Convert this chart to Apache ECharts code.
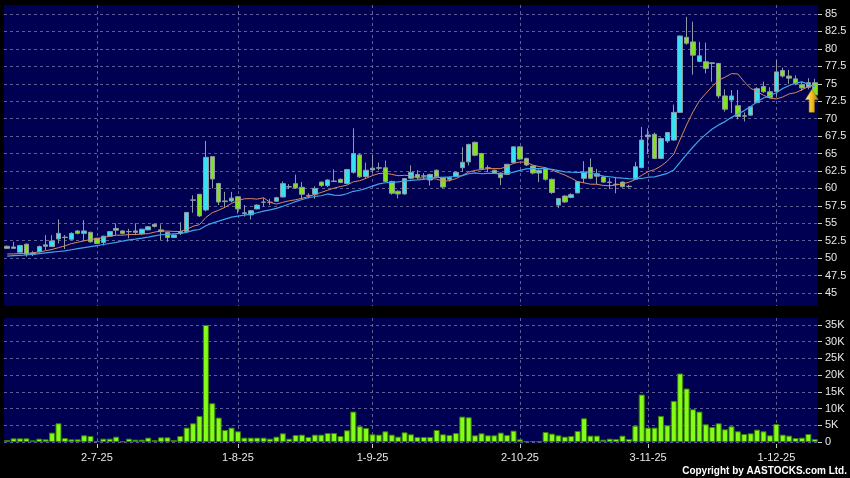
<!DOCTYPE html>
<html><head><meta charset="utf-8">
<script src="https://cdn.jsdelivr.net/npm/echarts@6/dist/echarts.min.js"></script>
<style>html,body{margin:0;padding:0;background:#000;}#c{width:850px;height:478px;}</style>
</head><body><div id="c"></div>
<script>
const dates = ['11-6-25','12-6-25','13-6-25','16-6-25','17-6-25','18-6-25','19-6-25','20-6-25','23-6-25','24-6-25','25-6-25','26-6-25','27-6-25','30-6-25',
'2-7-25','3-7-25','4-7-25','7-7-25','8-7-25','9-7-25','10-7-25','11-7-25','14-7-25','15-7-25','16-7-25','17-7-25','18-7-25','21-7-25','22-7-25','23-7-25','24-7-25','25-7-25','28-7-25','29-7-25','30-7-25','31-7-25',
'1-8-25','4-8-25','5-8-25','6-8-25','7-8-25','8-8-25','11-8-25','12-8-25','13-8-25','14-8-25','15-8-25','18-8-25','19-8-25','20-8-25','21-8-25','22-8-25','25-8-25','26-8-25','27-8-25','28-8-25','29-8-25',
'1-9-25','2-9-25','3-9-25','4-9-25','5-9-25','8-9-25','9-9-25','10-9-25','11-9-25','12-9-25','15-9-25','16-9-25','17-9-25','18-9-25','19-9-25','22-9-25','23-9-25','24-9-25','25-9-25','26-9-25','29-9-25','30-9-25',
'2-10-25','3-10-25','6-10-25','8-10-25','9-10-25','10-10-25','13-10-25','14-10-25','15-10-25','16-10-25','17-10-25','20-10-25','21-10-25','22-10-25','23-10-25','24-10-25','27-10-25','28-10-25','30-10-25','31-10-25',
'3-11-25','4-11-25','5-11-25','6-11-25','7-11-25','10-11-25','11-11-25','12-11-25','13-11-25','14-11-25','17-11-25','18-11-25','19-11-25','20-11-25','21-11-25','24-11-25','25-11-25','26-11-25','27-11-25','28-11-25',
'1-12-25','2-12-25','3-12-25','4-12-25','5-12-25','8-12-25','9-12-25','10-12-25'];

const opens = [51.7,51.4,50.85,52.0,50.6,50.9,51.7,51.65,52.75,53.0, 52.7,53.9,53.55,53.7,52.85,52.25,53.15,54.25,53.9,53.8, 53.9,53.5,54.05,54.85,54.05,53.7,52.95,53.55,53.8,58.3, 59.15,56.9,64.55,60.7,58.2,58.2,58.8,56.4,56.2,57.05, 58.0,58.0,58.15,58.77,60.2,60.68,60.15,59.0,59.15,60.9, 60.4,61.0,61.3,60.7,62.3,64.8,61.7,62.65,62.9,62.95, 61.0,59.6,59.2,61.45,62.0,61.8,61.2,62.6,61.5,61.3, 61.7,62.97,63.8,66.6,65.0,62.95,62.6,62.2,62.0,63.7, 65.95,64.3,63.2,62.2,62.85,61.3,57.6,58.9,58.7,59.35, 61.44,63.0,61.75,61.65,60.9,60.6,60.9,60.25,61.3,62.97, 67.4,67.75,64.3,66.8,66.93,70.9,81.65,81.0,78.2,78.15, 78.0,77.9,73.25,72.67,71.85,70.35,70.5,72.3,74.6,73.85, 73.9,76.9,76.1,75.7,74.85,74.5,75.15];
const closes = [51.4,51.6,51.8,50.55,50.75,51.65,51.9,52.45,53.55,52.95, 53.55,53.55,53.9,52.35,52.1,53.15,53.8,54.0,53.55,53.8, 53.7,54.15,54.5,54.55,53.8,52.95,53.3,53.8,56.55,58.35, 56.05,64.45,61.35,58.05,58.1,58.6,57.05,56.5,56.8,57.6, 58.05,58.0,58.67,60.68,60.25,60.06,59.15,58.95,60.0,60.4, 61.2,61.05,60.85,62.7,65.0,61.65,62.6,62.9,62.95,61.0, 59.3,59.2,61.4,62.3,61.6,61.75,62.0,61.65,60.2,61.55, 62.3,63.74,66.3,64.75,62.8,62.9,62.2,61.55,63.45,65.95, 64.2,63.35,62.2,62.6,61.3,59.4,58.55,58.05,59.1,60.95, 62.35,61.45,62.1,60.9,60.85,60.55,60.25,60.3,63.1,66.93, 67.65,64.3,67.15,68.0,70.9,81.85,80.8,79.1,79.0,77.2, 77.9,73.25,71.35,73.25,70.3,70.4,71.7,74.3,73.85,73.05, 76.7,76.1,75.8,75.0,74.4,75.15,73.4];
const lows = [51.3,51.3,50.8,50.2,50.3,50.8,51.15,51.6,52.1,51.3, 52.6,53.4,52.6,52.2,52.0,51.8,53.1,53.3,53.4,52.85, 53.3,53.3,54.0,54.4,52.6,52.35,52.9,53.3,53.7,56.5, 55.9,56.7,60.0,57.6,57.3,58.0,56.4,55.95,55.55,57.0, 57.4,57.6,58.1,58.7,59.9,59.9,58.5,58.6,58.5,60.2, 60.2,60.9,60.8,60.6,62.1,61.5,61.5,62.2,62.6,60.9, 59.1,58.55,59.1,61.3,61.3,61.2,60.4,61.5,60.0,61.0, 61.6,62.35,63.3,64.6,62.6,62.35,62.1,60.45,61.9,63.6, 64.1,63.2,62.0,60.9,61.1,59.2,57.15,57.9,58.6,59.3, 60.8,61.3,60.6,60.8,59.9,59.3,60.1,60.1,61.2,62.9, 65.0,64.2,64.2,66.5,66.8,70.8,80.6,76.3,78.1,76.5, 75.3,72.9,71.0,70.8,69.9,69.6,70.4,72.2,73.7,72.9, 73.15,75.9,75.0,74.8,74.0,74.2,73.3];
const highs = [51.8,52.35,51.9,52.1,51.0,51.8,53.3,53.3,55.55,53.3, 53.7,54.0,55.45,53.8,52.9,53.2,53.9,55.0,54.0,54.2, 55.0,54.2,54.6,54.9,54.85,53.8,53.4,55.15,56.6,59.0, 59.2,66.8,64.6,60.8,59.5,59.5,58.9,57.6,56.9,57.7, 58.6,58.5,58.8,61.0,60.6,61.97,60.9,59.3,60.3,61.0, 61.3,62.73,61.4,62.8,68.6,65.0,63.7,64.85,63.7,64.0, 61.1,59.7,61.5,63.3,62.6,62.2,62.1,62.7,61.6,61.7, 62.4,65.9,66.4,66.7,65.1,63.3,62.7,62.3,63.5,66.0, 66.0,64.4,63.3,62.7,63.0,61.4,58.6,59.0,59.3,61.0, 63.9,64.3,62.8,61.8,61.5,61.6,61.0,60.5,63.8,68.8, 68.6,68.0,67.3,68.1,72.0,81.9,84.6,83.9,81.0,80.9, 78.1,78.0,74.2,74.1,74.1,70.9,71.8,74.5,75.3,74.5, 78.4,77.3,77.0,76.2,75.2,75.8,75.7];
const ma10 = [50.6,50.6,50.65,50.65,50.75,50.9,51.05,51.25,51.5,51.75, 52.08,52.27,52.48,52.66,52.8,52.95,53.14,53.29,53.29,53.38, 53.39,53.45,53.51,53.73,53.9,53.88,53.83,53.81,54.11,54.57, 54.8,55.83,56.52,56.87,57.3,57.86,58.24,58.51,58.53,58.46, 58.66,58.01,57.74,58.01,58.22,58.37,58.58,58.82,59.14,59.42, 59.74,60.04,60.26,60.46,60.94,61.1,61.44,61.84,62.13,62.19, 62.0,61.82,61.87,61.83,61.49,61.5,61.44,61.32,61.04,61.1, 61.4,61.85,62.34,62.58,62.7,62.82,62.84,62.83,63.15,63.59, 63.78,63.75,63.34,63.12,62.97,62.62,62.26,61.91,61.47,60.97, 60.79,60.6,60.59,60.42,60.37,60.49,60.66,60.88,61.28,61.88, 62.41,62.69,63.2,63.91,64.91,67.04,69.1,70.98,72.57,73.6, 74.62,75.52,75.94,76.46,76.4,75.26,74.35,73.87,73.35,72.94, 72.82,73.1,73.55,73.72,74.13,74.61,74.78];
const ma20 = [50.3,50.35,50.4,50.45,50.55,50.65,50.75,50.85,50.95,51.05, 51.2,51.35,51.5,51.65,51.8,51.95,52.1,52.25,52.45,52.62, 52.73,52.86,53.0,53.2,53.35,53.41,53.48,53.55,53.7,53.97, 54.1,54.64,55.01,55.3,55.6,55.87,56.03,56.16,56.32,56.51, 56.73,56.92,57.13,57.44,57.76,58.11,58.41,58.66,58.84,58.94, 59.2,59.03,59.0,59.23,59.58,59.73,60.01,60.33,60.64,60.81, 60.87,60.93,61.06,61.15,61.21,61.3,61.44,61.58,61.59,61.64, 61.7,61.83,62.1,62.21,62.1,62.16,62.14,62.07,62.1,62.34, 62.59,62.8,62.84,62.85,62.84,62.72,62.55,62.37,62.31,62.28, 62.28,62.17,61.96,61.77,61.67,61.55,61.46,61.39,61.38,61.42, 61.6,61.64,61.89,62.16,62.64,63.76,64.88,65.93,66.92,67.74, 68.51,69.1,69.57,70.18,70.66,71.15,71.72,72.42,72.96,73.27, 73.72,74.31,74.74,75.09,75.27,74.93,74.56];
const volumesK = [0.6,1.1,1.1,1.1,0.5,1.0,0.8,2.8,5.6,1.2, 0.8,0.8,2.0,1.8,0.3,1.0,1.0,1.6,0.2,1.0, 0.7,0.7,1.3,0.6,1.4,1.4,0.6,1.8,4.3,5.6, 7.8,35.0,11.6,7.3,3.6,4.3,3.2,1.3,1.3,1.3, 1.3,1.0,1.6,2.6,1.0,2.1,2.2,1.5,2.2,2.2, 2.7,2.7,1.8,3.5,9.1,4.7,4.2,2.3,2.2,3.2, 2.2,1.6,2.9,2.3,1.5,1.5,1.5,3.6,2.3,2.1, 2.7,7.6,7.4,2.0,2.6,2.0,2.0,2.8,2.1,3.4, 0.8,0.2,0.3,0.2,3.0,2.5,2.0,1.6,1.8,3.3, 7.1,1.9,1.9,0.7,1.0,0.9,1.9,0.9,4.9,14.2, 4.3,4.3,7.8,5.0,12.3,20.5,16.0,9.8,9.1,5.3, 4.5,5.6,3.8,4.7,3.2,2.4,2.6,3.7,3.2,2.0, 5.4,2.2,1.9,1.2,1.3,2.4,0.9];
const tickIdx = [14, 36, 57, 80, 100, 120];
const tickText = ['2-7-25', '1-8-25', '1-9-25', '2-10-25', '3-11-25', '1-12-25'];
const arrowPrice = 72.55;

const NAVY = '#000052';
const GRIDLINE = {show: true, lineStyle: {color: '#5e5e94', type: [3, 3], width: 1}};
const FONT = '"Liberation Sans", Arial, sans-serif';
const isTick = (i) => tickIdx.indexOf(i) >= 0;

const chart = echarts.init(document.getElementById('c'), null, {renderer: 'canvas'});
const candles = opens.map((o, i) => [o, closes[i], lows[i], highs[i]]);

function hiddenX(gi) {
  return {type: 'category', gridIndex: gi, data: dates, boundaryGap: true,
    axisLine: {show: false}, axisTick: {show: false}, axisLabel: {show: false}, splitLine: {show: false}};
}

const option = {
  backgroundColor: '#000000',
  animation: false,
  grid: [
    {left: 4, right: 32, top: 14, height: 279},
    {left: 4, right: 32, top: 325, height: 117},
    {left: 4, right: 32, top: 5, height: 301, show: true, backgroundColor: NAVY, borderWidth: 0},
    {left: 4, right: 32, top: 318, height: 126, show: true, backgroundColor: NAVY, borderWidth: 0}
  ],
  xAxis: [
    hiddenX(0),
    hiddenX(1),
    {type: 'category', gridIndex: 2, data: dates, boundaryGap: true,
      axisLine: {show: false}, axisTick: {show: false}, axisLabel: {show: false},
      splitLine: Object.assign({interval: (i) => isTick(i), alignWithLabel: true}, GRIDLINE)},
    {type: 'category', gridIndex: 3, data: dates, boundaryGap: true, position: 'bottom',
      axisLine: {show: false},
      axisTick: {show: true, interval: (i) => isTick(i), alignWithLabel: true, length: 4, lineStyle: {color: '#cccccc'}},
      axisLabel: {show: true, interval: (i) => isTick(i), margin: 8, color: '#e8e8e8', fontSize: 11, fontFamily: FONT,
        formatter: (v, i) => { const k = tickIdx.indexOf(i); return k >= 0 ? tickText[k] : ''; }},
      splitLine: Object.assign({interval: (i) => isTick(i), alignWithLabel: true}, GRIDLINE)}
  ],
  yAxis: [
    {type: 'value', gridIndex: 0, position: 'right', min: 45, max: 85, interval: 2.5,
      axisLine: {show: false}, axisTick: {show: true, length: 4, lineStyle: {color: '#cccccc'}},
      axisLabel: {margin: 7, color: '#e8e8e8', fontSize: 11, fontFamily: FONT},
      splitLine: GRIDLINE},
    {type: 'value', gridIndex: 1, position: 'right', min: 0, max: 35, interval: 5,
      axisLine: {show: false}, axisTick: {show: true, length: 4, lineStyle: {color: '#cccccc'}},
      axisLabel: {margin: 7, color: '#e8e8e8', fontSize: 11, fontFamily: FONT, formatter: (v) => v === 0 ? '0' : v + 'K'},
      splitLine: GRIDLINE},
    {type: 'value', gridIndex: 2, show: false},
    {type: 'value', gridIndex: 3, show: false}
  ],
  series: [
    {type: 'candlestick', xAxisIndex: 0, yAxisIndex: 0, data: candles, barWidth: 5,
      itemStyle: {color: '#36e2f2', color0: '#82e21e', borderColor: '#8e9aa4', borderColor0: '#8e9aa4', borderColorDoji: '#8e9aa4', borderWidth: 1},
      markPoint: {
        silent: true,
        label: {show: false},
        data: [{coord: [dates[dates.length - 1], arrowPrice], symbol: 'path://M6,0 L12,10 L8.5,10 L8.5,22 L3.5,22 L3.5,10 L0,10 Z',
          symbolSize: [13, 23], symbolOffset: [-3, 0],
          itemStyle: {color: new echarts.graphic.LinearGradient(0, 0, 1, 0, [
            {offset: 0, color: '#fff4a8'}, {offset: 0.45, color: '#f2c628'}, {offset: 1, color: '#b87a00'}]),
            borderColor: '#a06a00', borderWidth: 0.5}}]
      }},
    {type: 'line', xAxisIndex: 0, yAxisIndex: 0, data: ma10, symbol: 'none', z: 3,
      lineStyle: {color: '#d88a5e', width: 1}},
    {type: 'line', xAxisIndex: 0, yAxisIndex: 0, data: ma20, symbol: 'none', z: 3,
      lineStyle: {color: '#3ea4ea', width: 1.2}},
    {type: 'bar', xAxisIndex: 1, yAxisIndex: 1, data: volumesK, barWidth: 6,
      itemStyle: {color: '#82fc18', borderColor: '#3a7f00', borderWidth: 1}}
  ],
  graphic: [
    {type: 'text', right: 3, bottom: 2, style: {text: 'Copyright by AASTOCKS.com Ltd.', fill: '#ffffff', font: 'bold 10px ' + FONT}}
  ]
};
chart.setOption(option);
</script>
</body></html>
